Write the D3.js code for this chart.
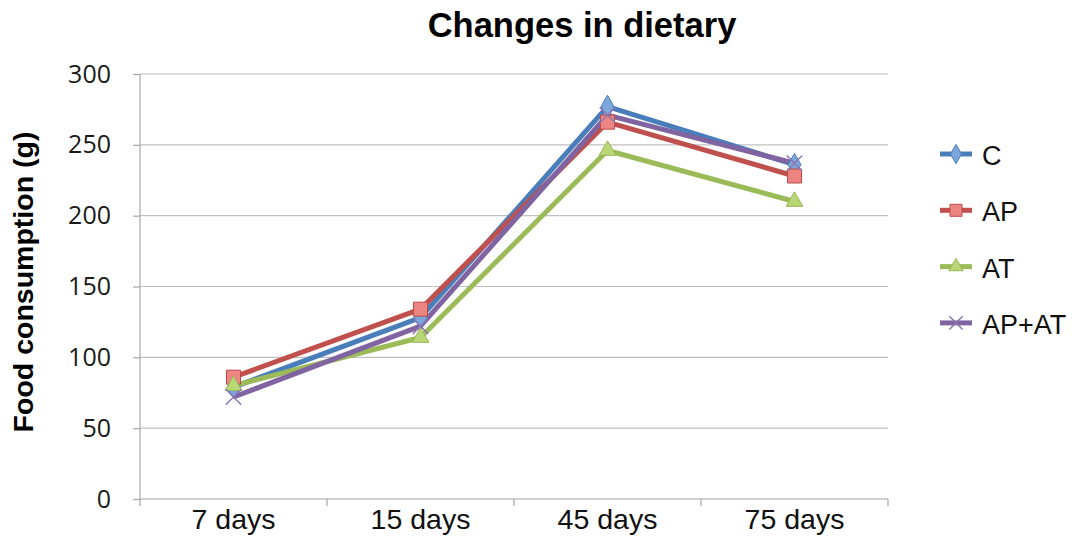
<!DOCTYPE html>
<html>
<head>
<meta charset="utf-8">
<script src="https://cdn.jsdelivr.net/npm/d3@7"></script>
<style>
  body { margin: 0; background: #fff; }
  svg { display: block; }
</style>
</head>
<body>
<svg id="chart" width="1078" height="538"></svg>
<script>
// chart data
const categories = ["7 days", "15 days", "45 days", "75 days"];
const seriesNames = ["C", "AP", "AT", "AP+AT"];
const valuesC = [79, 128, 277, 236];
const valuesAP = [86, 134, 266, 228];
const valuesAT = [80, 114, 246, 210];
const valuesAPAT = [72, 122, 271, 237];
const yTicks = [0, 50, 100, 150, 200, 250, 300];

const series = [
    { name: seriesNames[0], values: valuesC, line: "#4a7ebb", fill: "#7ba7dc", stroke: "#4a7ebb", marker: "diamond" },
    { name: seriesNames[1], values: valuesAP, line: "#c0504d", fill: "#ec8582", stroke: "#be4b48", marker: "square" },
    { name: seriesNames[2], values: valuesAT, line: "#9bbb59", fill: "#b9d777", stroke: "#98b954", marker: "triangle" },
    { name: seriesNames[3], values: valuesAPAT, line: "#8064a2", fill: "none", stroke: "#8f76b2", marker: "cross" }
];

const svg = d3.select("#chart");
const plotLeft = 140, plotRight = 888, plotTop = 74, plotBottom = 499;

const x = d3.scaleBand().domain(categories).range([plotLeft, plotRight]);
const y = d3.scaleLinear().domain([0, 300]).range([plotBottom, plotTop]);

// gridlines
svg.append("g")
    .selectAll("line")
    .data(yTicks.slice(1))
    .join("line")
    .attr("x1", plotLeft).attr("x2", plotRight)
    .attr("y1", d => y(d)).attr("y2", d => y(d))
    .attr("stroke", "#c0c0c0").attr("stroke-width", 1.2);

// y axis
const yAxis = svg.append("g")
    .attr("transform", `translate(${plotLeft},0)`)
    .call(d3.axisLeft(y).tickValues(yTicks).tickSize(7).tickPadding(22));
yAxis.select(".domain").attr("stroke", "#a6a6a6").attr("stroke-width", 1.2).attr("d", `M0,${plotTop}V${plotBottom}`);
yAxis.selectAll(".tick line").attr("stroke", "#a6a6a6").attr("stroke-width", 1.2);
yAxis.selectAll(".tick text")
    .attr("font-family", "Open Sans, Liberation Sans, sans-serif")
    .attr("font-size", 25).attr("fill", "#1a1a1a");

// x axis
const xAxis = svg.append("g")
    .attr("transform", `translate(0,${plotBottom})`)
    .call(d3.axisBottom(x).tickSize(0).tickPadding(10));
xAxis.select(".domain").attr("stroke", "#a6a6a6").attr("stroke-width", 1.2).attr("d", `M${plotLeft},0H${plotRight}`);
xAxis.selectAll(".tick text")
    .attr("font-family", "Liberation Sans, Arial, sans-serif")
    .attr("font-size", 28.5).attr("fill", "#111");
svg.append("g")
    .selectAll("line")
    .data(categories.concat(["end"]))
    .join("line")
    .attr("x1", (d, i) => i < categories.length ? x(d) : plotRight)
    .attr("x2", (d, i) => i < categories.length ? x(d) : plotRight)
    .attr("y1", plotBottom).attr("y2", plotBottom + 7)
    .attr("stroke", "#a6a6a6").attr("stroke-width", 1.2);

// title and axis label
svg.append("text")
    .attr("x", 582).attr("y", 37)
    .attr("text-anchor", "middle")
    .attr("font-family", "Liberation Sans, Arial, sans-serif")
    .attr("font-weight", "bold").attr("font-size", 34.5)
    .text("Changes in dietary");

svg.append("text")
    .attr("transform", "translate(33,282) rotate(-90)")
    .attr("text-anchor", "middle")
    .attr("font-family", "Liberation Sans, Arial, sans-serif")
    .attr("font-weight", "bold").attr("font-size", 28.5)
    .text("Food consumption (g)");

const cx = d => x(d) + x.bandwidth() / 2;

// lines
const line = d3.line()
    .x((d, i) => cx(categories[i]))
    .y(d => y(d));

svg.append("g")
    .selectAll("path")
    .data(series)
    .join("path")
    .attr("d", s => line(s.values))
    .attr("fill", "none")
    .attr("stroke", s => s.line)
    .attr("stroke-width", 5)
    .attr("stroke-linejoin", "round");

// markers
function drawMarker(g, type, s, size) {
    if (type === "cross") {
        const h = size * 0.55;
        g.append("path")
            .attr("d", `M${-h},${-h}L${h},${h}M${-h},${h}L${h},${-h}`)
            .attr("stroke", s.stroke).attr("stroke-width", 1.5).attr("fill", "none");
        return;
    }
    const shape = { diamond: d3.symbolDiamond, square: d3.symbolSquare, triangle: d3.symbolTriangle }[type];
    const area = type === "diamond" ? size * size * 0.75 : (type === "triangle" ? size * size * 0.62 : size * size);
    g.append("path")
        .attr("d", d3.symbol().type(shape).size(area)())
        .attr("fill", s.fill).attr("stroke", s.stroke).attr("stroke-width", 1);
}

series.forEach(s => {
    const g = svg.append("g");
    s.values.forEach((v, i) => {
        const m = g.append("g").attr("transform", `translate(${cx(categories[i])},${y(v)})`);
        drawMarker(m, s.marker, s, 14);
    });
});

// legend
const legend = svg.append("g").attr("transform", "translate(940,154)");
series.forEach((s, i) => {
    const row = legend.append("g").attr("transform", `translate(0,${i * 56.3})`);
    row.append("line")
        .attr("x1", 0).attr("x2", 32)
        .attr("stroke", s.line).attr("stroke-width", 5);
    const m = row.append("g").attr("transform", "translate(16,0)");
    drawMarker(m, s.marker, s, 12);
    row.append("text")
        .attr("x", 42).attr("y", 11)
        .attr("font-family", "Liberation Sans, Arial, sans-serif")
        .attr("font-size", 27).attr("fill", "#111")
        .text(s.name);
});
</script>
</body>
</html>
